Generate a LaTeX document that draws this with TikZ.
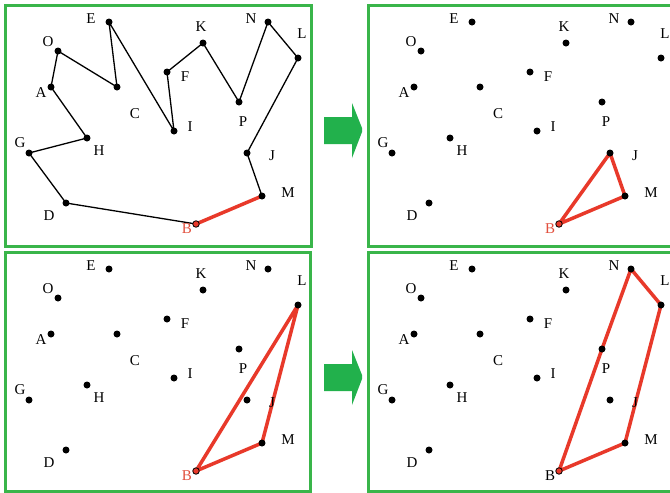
\documentclass[tikz,border=0pt]{standalone}
\usepackage{fontspec}
\setmainfont{Liberation Serif}
\usetikzlibrary{backgrounds}
\definecolor{framegreen}{RGB}{57,181,74}
\definecolor{arrowgreen}{RGB}{34,177,76}
\definecolor{hullred}{RGB}{232,57,42}
\definecolor{labred}{RGB}{226,80,62}
\tikzset{
  dot/.style={circle,fill=black,inner sep=0pt,minimum size=7pt},
  bdot/.style={circle,draw=black,fill=hullred,line width=0.8pt,inner sep=0pt,minimum size=6.5pt},
  lab/.style={inner sep=0pt,font=\fontsize{15}{17}\selectfont},
  frame/.style={draw=framegreen,line width=3pt},
  polyline/.style={draw=black,line width=1.3pt},
  hull/.style={draw=hullred,line width=3.5pt,line join=round,line cap=round},
  bigarrow/.style={fill=arrowgreen,draw=none}
}
\newcommand\pointset[1]{%
  \node[dot] (E) at (109,22) {};
  \node[dot] (O) at (58,51) {};
  \node[dot] (A) at (51,87) {};
  \node[dot] (C) at (117,87) {};
  \node[dot] (G) at (29,153) {};
  \node[dot] (H) at (87,138) {};
  \node[dot] (D) at (66,203) {};
  \node[bdot] (B) at (196,224) {};
  \node[dot] (M) at (262,196) {};
  \node[dot] (J) at (247,153) {};
  \node[dot] (P) at (239,102) {};
  \node[dot] (I) at (174,131) {};
  \node[dot] (F) at (167,72) {};
  \node[dot] (K) at (203,43) {};
  \node[dot] (N) at (268,22) {};
  \node[dot] (L) at (298,58) {};
  \node[lab] (lE) at (91,19) {E};
  \node[lab] (lO) at (48,42) {O};
  \node[lab] (lA) at (41,93) {A};
  \node[lab] (lC) at (135,114) {C};
  \node[lab] (lG) at (20,143) {G};
  \node[lab] (lH) at (99,151) {H};
  \node[lab] (lD) at (49,216) {D};
  \node[lab,text=#1] (lB) at (187,229) {B};
  \node[lab] (lM) at (288,193) {M};
  \node[lab] (lJ) at (272,156) {J};
  \node[lab] (lP) at (243,122) {P};
  \node[lab] (lI) at (190,127) {I};
  \node[lab] (lF) at (185,77) {F};
  \node[lab] (lK) at (201,27) {K};
  \node[lab] (lN) at (251,19) {N};
  \node[lab] (lL) at (302,34) {L};
}
\begin{document}
\begin{tikzpicture}[x=1pt,y=-1pt]
\useasboundingbox (0,0) rectangle (670,493);
\begin{scope}[on background layer]
  \fill[white] (0,0) rectangle (670,493);
\end{scope}
% frames
\draw[frame] (5,5) rectangle (311,246);
\draw[frame] (368,5) rectangle (690,246);
\draw[frame] (5,252) rectangle (310,491);
\draw[frame] (368,252) rectangle (690,491);
% arrows
\fill[bigarrow] (324,117) -- (352,117) -- (352,103) -- (362,128) -- (362,132) -- (352,158) -- (352,144) -- (324,144) -- cycle;
\fill[bigarrow] (324,364) -- (352,364) -- (352,350) -- (362,375) -- (362,379) -- (352,405) -- (352,391) -- (324,391) -- cycle;
% panel 1
\begin{scope}[name prefix=a-]
  \pointset{labred}
  \begin{scope}[on background layer]
    \draw[polyline] (B.center) -- (D.center) -- (G.center) -- (H.center) -- (A.center) -- (O.center) -- (C.center) -- (E.center) -- (I.center) -- (F.center) -- (K.center) -- (P.center) -- (N.center) -- (L.center) -- (J.center) -- (M.center);
    \draw[hull] (M.center) -- (B.center);
  \end{scope}
\end{scope}
% panel 2
\begin{scope}[shift={(363,0)},name prefix=b-]
  \pointset{labred}
  \begin{scope}[on background layer]
    \draw[hull] (B.center) -- (J.center) -- (M.center) -- cycle;
  \end{scope}
\end{scope}
% panel 3
\begin{scope}[shift={(0,247)},name prefix=c-]
  \pointset{labred}
  \begin{scope}[on background layer]
    \draw[hull] (B.center) -- (L.center) -- (M.center) -- cycle;
  \end{scope}
\end{scope}
% panel 4
\begin{scope}[shift={(363,247)},name prefix=d-]
  \pointset{black}
  \begin{scope}[on background layer]
    \draw[hull] (B.center) -- (P.center) -- (N.center) -- (L.center) -- (M.center) -- cycle;
  \end{scope}
\end{scope}
\end{tikzpicture}
\end{document}
